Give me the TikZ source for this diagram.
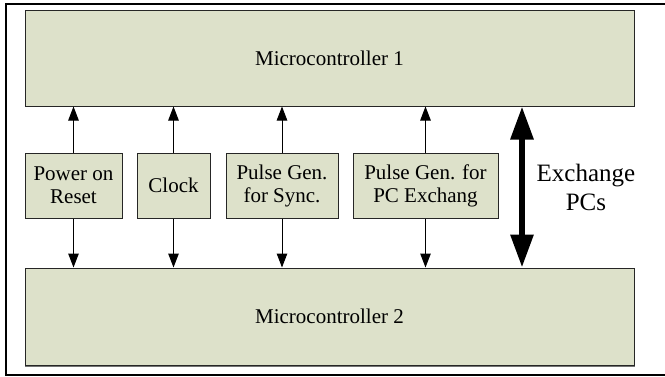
\documentclass[tikz,border=0pt]{standalone}
\usepackage{fontspec}
\setmainfont{Liberation Serif}
\usetikzlibrary{arrows.meta}
\definecolor{boxfill}{RGB}{221,225,202}
\tikzset{
  unit/.style = {draw=black!85, fill=boxfill, line width=1pt, inner sep=0pt,
                 align=center, font=\fontsize{21}{23}\selectfont},
  sig/.style  = {line width=1pt, -{Triangle[length=14pt,width=10.5pt]}},
  bus/.style  = {line width=6pt, {Triangle[length=33pt,width=22pt]}-{Triangle[length=33pt,width=22pt]}},
}
\begin{document}
\begin{tikzpicture}[x=1pt, y=-1pt]
            \useasboundingbox (0,0) rectangle (665,376);
            \draw[line width=2pt] (665,4) -- (6,4) -- (6,375) -- (665,375);

            \node[unit, minimum width=609pt, minimum height=96pt] (mcu1) at (329.5,58) {Microcontroller 1};
            \draw[black!55, line width=1.5pt] (25,366) -- (634.5,366);
            \node[unit, minimum width=609pt, minimum height=97pt] (mcu2) at (329.5,316.5) {Microcontroller 2};

            \node[unit, minimum width=97pt,  minimum height=65pt] (por)  at (73.5,185.5) {Power on\\Reset};
            \node[unit, minimum width=73pt,  minimum height=65pt] (clk)  at (173.5,185.5) {Clock};
            \node[unit, minimum width=112pt, minimum height=65pt] (sync) at (282,185.5) {Pulse Gen.\\for Sync.};
            \node[unit, minimum width=145pt, minimum height=65pt] (pcx)  at (425.5,185.5) {Pulse Gen. for\\PC Exchang};

            \foreach \b in {por,clk,sync,pcx}{
              \draw[sig] (\b.north) -- (\b.north |- mcu1.south);
              \draw[sig] (\b.south) -- (\b.south |- mcu2.north);
            }

            \coordinate (pcs) at (522,185);
            \draw[bus] (pcs |- mcu1.south) -- (pcs |- mcu2.north);
            \node[align=center, font=\fontsize{25}{29}\selectfont] (pcslabel) at (586,187) {Exchange\\PCs};
\end{tikzpicture}
\end{document}
